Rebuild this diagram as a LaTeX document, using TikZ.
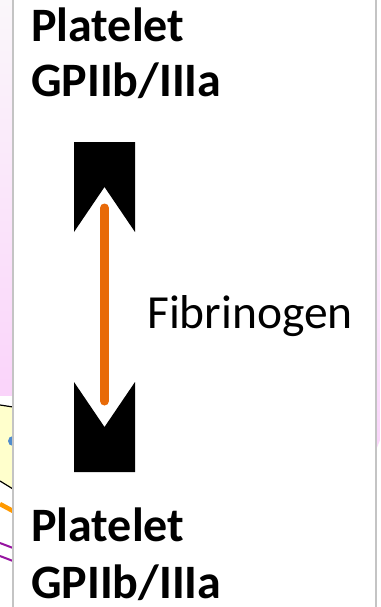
\documentclass[tikz,border=0pt]{standalone}
\usepackage{fontspec}
\setmainfont{Carlito}
\definecolor{pinkbg}{RGB}{250,212,250}
\definecolor{pinklight}{RGB}{250,247,250}
\definecolor{boxgray}{RGB}{196,196,196}
\definecolor{fiborange}{RGB}{232,106,8}
\definecolor{paleyellow}{RGB}{255,255,204}
\definecolor{dotblue}{RGB}{80,140,205}
\definecolor{linkorange}{RGB}{255,153,0}
\definecolor{linkpurple}{RGB}{150,20,160}
\begin{document}
\begin{tikzpicture}[x=1pt,y=-1pt,
  boldlabel/.style={font=\fontsize{48}{55}\selectfont\bfseries,inner sep=0pt,anchor=base west},
  plainlabel/.style={font=\fontsize{47.5}{55}\selectfont,inner sep=0pt,anchor=base west},
  blockshape/.style={fill=black,draw=none},
  fiberline/.style={draw=fiborange,line width=9pt,line cap=round}]
\useasboundingbox (0,0) rectangle (380,607);
% background pieces of the slide
\fill[white] (0,0) rectangle (380,607);
\shade[top color=pinklight,bottom color=pinkbg] (0,0) rectangle (13,395);
\shade[top color=white,bottom color=pinkbg] (376,60) -- (380,60) -- (380,440) -- (376,450) -- cycle;
\fill[paleyellow] (0,405) -- (13,407) -- (13,489) -- (0,481) -- cycle;
\draw[black,line width=1.2pt] (0,405) -- (13,407);
\draw[black,line width=1.2pt] (0,481) -- (13,489);
\fill[dotblue] (13,446) arc[start angle=90,end angle=270,radius=5] -- cycle;
\draw[linkorange,line width=4.5pt] (0,504) -- (13,511);
\draw[linkpurple,line width=2pt] (0,543) -- (13,548);
\draw[linkpurple,line width=2pt] (0,556) -- (13,561);
% white panel
\fill[white] (13,0) rectangle (376,607);
\draw[boxgray,line width=1.5pt] (13,-2) -- (13,609);
\draw[boxgray,line width=1.5pt] (376,-2) -- (376,609);
% labels
\node[boldlabel] (topA) at (31,42) {Platelet};
\node[boldlabel] (topB) at (31,97) {GPIIb/IIIa};
\node[boldlabel] (botA) at (31,541) {Platelet};
\node[boldlabel,text depth=6pt] (botB) at (31,598) {GPIIb/IIIa};
\node[plainlabel] (fib) at (147,328) {Fibrinogen};
% receptor blocks
\fill[blockshape] (74,142) -- (135,142) -- (135,232) -- (104.5,187) -- (74,232) -- cycle;
\fill[blockshape] (74,382) -- (104.5,427) -- (135,382) -- (135,472) -- (74,472) -- cycle;
% fibrinogen bridge
\coordinate (fibTop) at (104.5,208);
\coordinate (fibBot) at (104.5,401);
\draw[fiberline] (fibTop) -- (fibBot);
\end{tikzpicture}
\end{document}
